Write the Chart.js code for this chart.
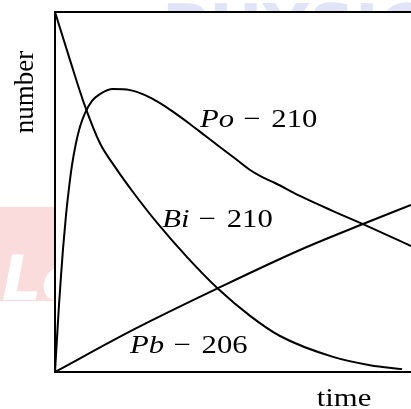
<!DOCTYPE html>
<html lang="en">
<head>
<meta charset="UTF-8" />
<title>Decay chain: Bi-210, Po-210, Pb-206</title>
<script src="https://cdn.jsdelivr.net/npm/chart.js"></script>
<style>
  html, body {
    margin: 0; padding: 0;
    background: white;
    overflow: hidden;
  }
  .wrap {
    width: 411px;
    height: 409px;
    position: relative;
  }
</style>
</head>
<body>
  <div class="wrap">
    <canvas id="decayChart"></canvas>
  </div>

  <script>
    // curves, time and number both on a 0..100 scale
    const biTime  = [0, 4.2, 8.4, 12.6, 16.9, 21.9, 28.7, 37.1, 45.8, 54.8, 63.2, 78.1, 88.5, 97.5];
    const biCount = [100, 86.7, 73.9, 63.6, 56.9, 50.0, 41.4, 31.9, 23.1, 15.6, 10.0, 4.2, 1.9, 0.8];

    const poTime  = [0, 0.56, 1.12, 1.69, 2.25, 3.09, 3.93, 4.78, 5.90, 7.02, 8.43, 10.4, 12.6, 16.3,
                     21.1, 25.3, 29.5, 33.7, 37.9, 42.1, 46.3, 50.6, 54.8, 58.1, 61.8, 68.8, 78.1, 86.5, 100];
    const poCount = [0, 9.4, 18.6, 26.7, 34.2, 43.6, 51.1, 57.5, 63.6, 68.1, 71.9, 75.3, 77.2, 78.6,
                     78.3, 76.9, 74.7, 71.9, 68.9, 65.7, 62.5, 59.3, 56.1, 54.2, 52.5, 48.9, 44.7, 41.1, 35.0];

    const pbTime  = [0, 21.9, 45.8, 68.8, 86.5, 100];
    const pbCount = [0, 11.7, 23.3, 33.9, 41.1, 46.4];

    // curve names: italic symbol + mass number, anchored at (time, number)
    const labelSymbols = ['Po', 'Bi', 'Pb'];
    const labelMasses  = ['210', '210', '206'];
    const labelTime    = [40.7, 30.1, 21.1];
    const labelCount   = [68.1, 40.3, 5.3];

    const xTitle = 'time';
    const yTitle = 'number';

    function toPoints(xs, ys) {
      return xs.map((x, i) => ({ x: x, y: ys[i] }));
    }

    const SERIF = '"Liberation Serif", "Times New Roman", serif';
    const SX = 1.18; // text is a little wide in this figure

    // faint logo marks behind the plot, then the white plot box
    const backdrop = {
      id: 'backdrop',
      beforeDraw(chart) {
        const { ctx, chartArea: a } = chart;
        ctx.save();
        ctx.fillStyle = '#e1e4f6';
        ctx.font = 'bold 64px "DejaVu Sans", sans-serif';
        ctx.textBaseline = 'alphabetic';
        ctx.fillText('PHYSICS', 162, 50);

        ctx.fillStyle = '#fadcdc';
        ctx.fillRect(0, 207, a.left, 94);
        ctx.fillStyle = '#ffffff';
        ctx.font = 'italic bold 62px "DejaVu Sans", sans-serif';
        ctx.fillText('Le', 2, 300);

        ctx.fillStyle = '#ffffff';
        ctx.fillRect(a.left, a.top, a.right - a.left, a.bottom - a.top);
        ctx.restore();
      }
    };

    // box lines (left, top, bottom), axis titles and curve names
    const frame = {
      id: 'frame',
      afterDatasetsDraw(chart) {
        const { ctx, chartArea: a, scales } = chart;
        ctx.save();
        ctx.strokeStyle = '#000';
        ctx.lineWidth = 2;
        ctx.beginPath();
        ctx.moveTo(a.right, a.top);
        ctx.lineTo(a.left, a.top);
        ctx.lineTo(a.left, a.bottom);
        ctx.lineTo(a.right, a.bottom);
        ctx.stroke();

        ctx.fillStyle = '#000';
        ctx.textBaseline = 'alphabetic';

        labelSymbols.forEach((sym, i) => {
          const px = scales.x.getPixelForValue(labelTime[i]);
          const py = scales.y.getPixelForValue(labelCount[i]);
          ctx.save();
          ctx.translate(px, py);
          ctx.scale(SX, 1);
          ctx.textAlign = 'left';
          ctx.font = 'italic 26px ' + SERIF;
          ctx.fillText(sym, 0, 0);
          let w = ctx.measureText(sym).width + 8;
          ctx.font = '26px ' + SERIF;
          ctx.fillText('\u2212', w, 0);
          w += ctx.measureText('\u2212').width + 9;
          ctx.fillText(labelMasses[i], w, 0);
          ctx.restore();
        });

        ctx.save();
        ctx.translate(344, 406);
        ctx.scale(SX, 1);
        ctx.textAlign = 'center';
        ctx.font = '26px ' + SERIF;
        ctx.fillText(xTitle, 0, 0);
        ctx.restore();

        ctx.save();
        ctx.translate(33, 92);
        ctx.rotate(-Math.PI / 2);
        ctx.textAlign = 'center';
        ctx.font = '27px ' + SERIF;
        ctx.fillText(yTitle, 0, 0);
        ctx.restore();

        ctx.restore();
      }
    };

    const lineStyle = {
      borderColor: '#000',
      borderWidth: 2,
      pointRadius: 0,
      fill: false,
      cubicInterpolationMode: 'monotone'
    };

    function build() {
      new Chart(document.getElementById('decayChart'), {
        type: 'line',
        data: {
          datasets: [
            Object.assign({ label: 'Bi-210', data: toPoints(biTime, biCount) }, lineStyle),
            Object.assign({ label: 'Po-210', data: toPoints(poTime, poCount) }, lineStyle),
            Object.assign({ label: 'Pb-206', data: toPoints(pbTime, pbCount) }, lineStyle)
          ]
        },
        options: {
          responsive: true,
          maintainAspectRatio: false,
          animation: false,
          layout: { padding: { left: 55, top: 12, right: 0, bottom: 37 } },
          scales: {
            x: { type: 'linear', min: 0, max: 100, display: false },
            y: { min: 0, max: 100, display: false }
          },
          plugins: {
            legend: { display: false },
            tooltip: { enabled: false }
          }
        },
        plugins: [backdrop, frame]
      });
    }

    Promise.all([
      document.fonts.load('26px "Liberation Serif"'),
      document.fonts.load('italic 26px "Liberation Serif"')
    ]).then(build, build);
  </script>
</body>
</html>
